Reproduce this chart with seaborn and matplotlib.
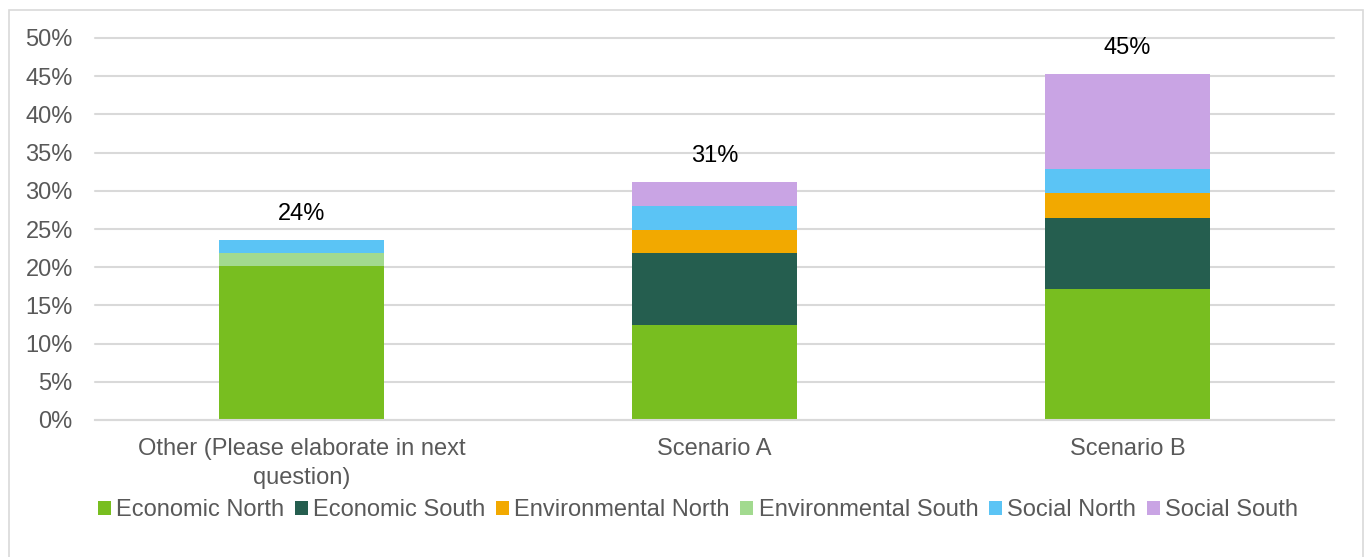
import matplotlib
matplotlib.use("Agg")
import matplotlib.pyplot as plt
import seaborn as sns
import pandas as pd
import numpy as np
from matplotlib.patches import Patch, Rectangle

categories = ["Other (Please elaborate in next\nquestion)", "Scenario A", "Scenario B"]
series_names = ["Economic North", "Economic South", "Environmental North",
                "Environmental South", "Social North", "Social South"]
economic_north = [20.1, 12.5, 17.2]
economic_south = [0.0, 9.3, 9.3]
environmental_north = [0.0, 3.1, 3.2]
environmental_south = [1.8, 0.0, 0.0]
social_north = [1.6, 3.1, 3.1]
social_south = [0.0, 3.1, 12.5]
total_labels = ["24%", "31%", "45%"]
y_ticks = [0, 5, 10, 15, 20, 25, 30, 35, 40, 45, 50]

colors = ["#78be20", "#255e4f", "#f2a900", "#a2da8f", "#5bc4f5", "#c9a4e4"]

sns.set_theme(style="white")
plt.rcParams["font.family"] = ["Liberation Sans", "DejaVu Sans"]

FS = 17

series = [economic_north, economic_south, environmental_north,
          environmental_south, social_north, social_south]
cum = np.cumsum(np.array(series), axis=0)

fig = plt.figure(figsize=(13.68, 5.57), dpi=100)
ax = fig.add_axes([95 / 1368, 1 - 420 / 557, (1334 - 95) / 1368, (420 - 38) / 557])

# draw cumulative from top series down so lower series overlay
for i in range(len(series) - 1, -1, -1):
    df = pd.DataFrame({"cat": categories, "val": cum[i]})
    sns.barplot(data=df, x="cat", y="val", color=colors[i], width=0.4,
                saturation=1, ax=ax, linewidth=0, order=categories)

totals = cum[-1]
for j, lab in enumerate(total_labels):
    ax.annotate(lab, (j, totals[j]), xytext=(0, 19), textcoords="offset points",
                ha="center", va="center", fontsize=FS, color="black")

ax.set_xlim(-0.5, 2.5)
ax.set_ylim(0, 50)
ax.set_yticks(y_ticks)
ax.set_yticklabels([f"{t}%" for t in y_ticks])
ax.yaxis.grid(True, color="#d9d9d9", linewidth=1.5)
for gl in ax.get_ygridlines():
    gl.set_clip_on(False)
ax.set_axisbelow(True)
for s in ["top", "right", "left"]:
    ax.spines[s].set_visible(False)
ax.spines["bottom"].set_color("#d9d9d9")
ax.spines["bottom"].set_linewidth(1.5)
ax.tick_params(axis="both", length=0, labelsize=FS, colors="#595959")
ax.tick_params(axis="y", pad=16)
ax.tick_params(axis="x", pad=13)
ax.set_xlabel("")
ax.set_ylabel("")
for t in ax.get_xticklabels():
    t.set_linespacing(1.4)

handles = [Patch(facecolor=c, edgecolor="none", label=n) for c, n in zip(colors, series_names)]
leg = fig.legend(handles=handles, loc="center", bbox_to_anchor=(698 / 1368, 1 - 510 / 557),
                 ncol=6, frameon=False, fontsize=FS, handlelength=0.55, handleheight=0.55,
                 handletextpad=0.22, columnspacing=0.45, borderaxespad=0)
for t in leg.get_texts():
    t.set_color("#595959")

fig.patches.append(Rectangle((8.5 / 1368, -0.1), (1363 - 8.5) / 1368, 1.1 - 9.5 / 557,
                             transform=fig.transFigure, fill=False,
                             edgecolor="#d9d9d9", linewidth=1.2))

fig.savefig("out.png", dpi=100)
